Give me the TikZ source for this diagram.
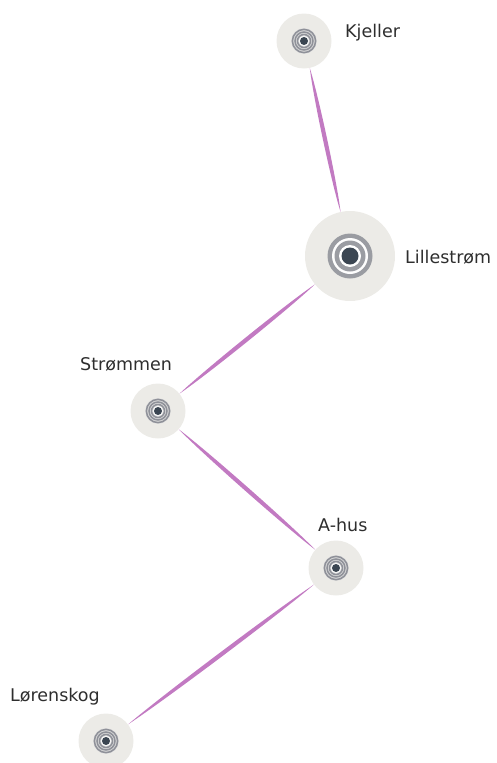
\documentclass[tikz,border=0pt]{standalone}
\usepackage{fontspec}
\setmainfont{DejaVu Sans}
\usetikzlibrary{calc}

\definecolor{disc}{HTML}{ECEBE7}
\definecolor{ring}{HTML}{8F9199}
\definecolor{ringgap}{HTML}{D9D9D9}
\definecolor{hubring}{HTML}{9A9CA2}
\definecolor{core}{HTML}{3B4652}
\definecolor{link}{HTML}{C27AC2}
\definecolor{labeltext}{HTML}{2E2E2E}

% concentric target of a small station
\newcommand\smallrings[1]{%
  \fill[ringgap] (#1) circle (12.8pt);
  \draw[ring, line width=1.5pt] (#1) circle (11.6pt) (#1) circle (9pt) (#1) circle (6.5pt);
  \fill[white!80!ringgap] (#1) circle (5.3pt);
  \fill[core] (#1) circle (4pt);
}
% concentric target of the hub
\newcommand\hubrings[1]{%
  \fill[hubring] (#1) circle (22.5pt);
  \fill[white!92!disc] (#1) circle (18pt);
  \fill[hubring] (#1) circle (15.5pt);
  \fill[white] (#1) circle (11pt);
  \fill[core] (#1) circle (8.5pt);
}
% tapered, lens-shaped connector between the rims of two stations
\newcommand\stationlink[2]{%
  \path (#1) -- (#2) coordinate[pos=0] (lS) coordinate[pos=1] (lE);
  \path let \p1 = ($(lE)-(lS)$),
            \n1 = {veclen(\x1,\y1)},
            \p2 = ({-\y1/\n1*2.8pt}, {\x1/\n1*2.8pt}) in
    coordinate (lA) at ($(lS)!0.2!(lE) + (\p2)$)
    coordinate (lB) at ($(lS)!0.8!(lE) + (\p2)$)
    coordinate (lC) at ($(lS)!0.8!(lE) - (\p2)$)
    coordinate (lD) at ($(lS)!0.2!(lE) - (\p2)$);
  \fill[link] (lS) .. controls (lA) and (lB) .. (lE)
              .. controls (lC) and (lD) .. (lS) -- cycle;
}

\begin{document}
\begin{tikzpicture}[x=1pt,y=-1pt,
  station/.style={circle, fill=disc, inner sep=0pt, minimum size=55pt},
  hub/.style={station, minimum size=90pt},
  stationname/.style={font=\fontsize{17.5}{17.5}\selectfont, text=labeltext,
    inner sep=0pt, anchor=base west}]
\useasboundingbox (0,0) rectangle (496,763);

% stations
\node[station] (kjeller) at (304,41) {};
\node[hub] (lillestrom) at (350,256) {};
\node[station] (strommen) at (158,411) {};
\node[station] (ahus) at (336,568) {};
\node[station] (lorenskog) at (106,741) {};

\smallrings{kjeller}
\hubrings{lillestrom}
\smallrings{strommen}
\smallrings{ahus}
\smallrings{lorenskog}

% connectors
\stationlink{kjeller}{lillestrom}
\stationlink{lillestrom}{strommen}
\stationlink{strommen}{ahus}
\stationlink{ahus}{lorenskog}

% names
\node[stationname] (kjellername) at (345,37) {Kjeller};
\node[stationname] (lillestromname) at (405,263) {Lillestrøm};
\node[stationname] (strommenname) at (80,370) {Strømmen};
\node[stationname] (ahusname) at (318,531) {A-hus};
\node[stationname] (lorenskogname) at (10,701) {Lørenskog};
\end{tikzpicture}
\end{document}
